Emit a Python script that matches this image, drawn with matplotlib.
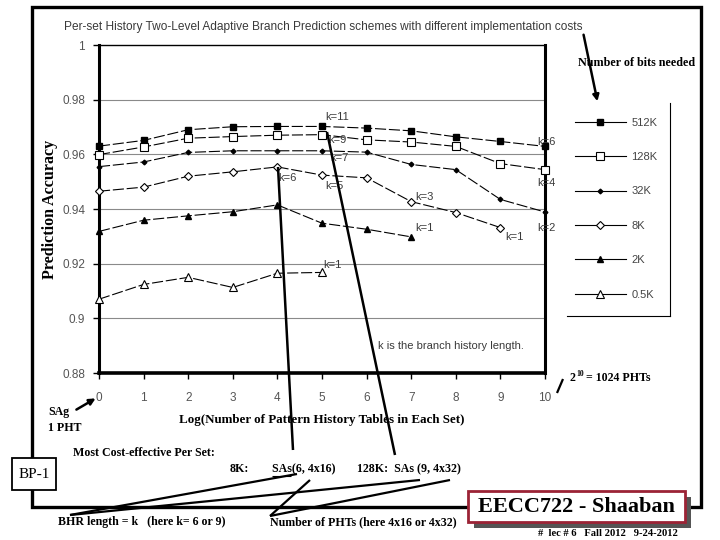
import matplotlib
matplotlib.use("Agg")
import matplotlib.pyplot as plt
from matplotlib.lines import Line2D
from matplotlib.patches import Rectangle, FancyArrowPatch

# ---------------- data ----------------
log_phts = list(range(11))
series_labels = ["512K", "128K", "32K", "8K", "2K", "0.5K"]
acc_512k = [0.9630, 0.9651, 0.9690, 0.9701, 0.9702, 0.9702, 0.9696, 0.9686, 0.9664, 0.9647, 0.9629]
acc_128k = [0.9599, 0.9627, 0.9659, 0.9665, 0.9670, 0.9672, 0.9653, 0.9645, 0.9629, 0.9566, 0.9544]
acc_32k = [0.9555, 0.9572, 0.9607, 0.9613, 0.9613, 0.9613, 0.9608, 0.9563, 0.9544, 0.9435, 0.9389]
acc_8k = [0.9465, 0.9480, 0.9520, 0.9536, 0.9554, 0.9524, 0.9514, 0.9427, 0.9387, 0.9332]
acc_2k = [0.9318, 0.9359, 0.9375, 0.9390, 0.9415, 0.9348, 0.9326, 0.9298]
acc_05k = [0.9070, 0.9124, 0.9150, 0.9113, 0.9165, 0.9168]
y_ticks = [0.88, 0.90, 0.92, 0.94, 0.96, 0.98, 1.0]
y_tick_labels = ["0.88", "0.9", "0.92", "0.94", "0.96", "0.98", "1"]
k_notes = [  # (x, y, text)
    (5.07, 0.9737, "k=11"), (5.13, 0.9652, "k=9"), (5.18, 0.9587, "k=7"),
    (4.01, 0.9514, "k=6"), (5.07, 0.9484, "k=5"), (5.03, 0.9195, "k=1"),
    (7.08, 0.9444, "k=3"), (7.08, 0.9331, "k=1"), (9.10, 0.9298, "k=1"),
    (9.82, 0.9645, "k=6"), (9.82, 0.9495, "k=4"), (9.82, 0.9331, "k=2"),
]

SANS = ["Liberation Sans Narrow", "Liberation Sans", "DejaVu Sans"]
SERIF = ["Liberation Serif", "DejaVu Serif"]
GRAY = "#3a3a3a"

W, H = 720, 540
def P(x, y):
    return (x / W, 1 - y / H)

fig = plt.figure(figsize=(7.2, 5.4), dpi=100)
fig.patch.set_facecolor("white")

ax = fig.add_axes([99 / W, 1 - 373 / H, (545 - 99) / W, (373 - 45) / H])
ax.set_xlim(0, 10)
ax.set_ylim(0.88, 1.0)

styles = [
    dict(marker="s", ms=4.6, mfc="black", mec="black"),
    dict(marker="s", ms=5.6, mfc="white", mec="black", mew=0.8),
    dict(marker="D", ms=2.4, mfc="black", mec="black"),
    dict(marker="D", ms=4.4, mfc="white", mec="black", mew=0.8),
    dict(marker="^", ms=3.8, mfc="black", mec="black"),
    dict(marker="^", ms=5.6, mfc="white", mec="black", mew=0.8),
]
all_series = [acc_512k, acc_128k, acc_32k, acc_8k, acc_2k, acc_05k]
handles = []
for vals, st, lab in zip(all_series, styles, series_labels):
    ax.plot(log_phts[:len(vals)], vals, color="black", lw=0.8,
            linestyle=(0, (10, 2.5)), clip_on=False, zorder=4, **st)
    handles.append(Line2D([0], [0], color="black", lw=0.8, **st))

for s in ["left", "right"]:
    ax.spines[s].set_linewidth(2.2)
ax.spines["bottom"].set_linewidth(2.6)
ax.spines["top"].set_linewidth(1.0)

ax.set_yticks(y_ticks)
ax.set_yticklabels(y_tick_labels)
ax.set_xticks(log_phts)
ax.tick_params(axis="y", direction="out", length=4, width=1, pad=6,
               labelsize=8.5, labelcolor="#555555")
ax.tick_params(axis="x", direction="out", length=4, width=1, pad=10,
               labelsize=8.5, labelcolor="#555555")
for lab in ax.get_xticklabels() + ax.get_yticklabels():
    lab.set_family(SANS)
for yv in y_ticks[1:-1]:
    ax.axhline(yv, color="#8a8a8a", lw=0.8, zorder=1)

for x, y, t in k_notes:
    ax.text(x, y, t, fontsize=8, family=SANS, color=GRAY, va="center", ha="left", zorder=5)
ax.text(6.26, 0.8897, "k is the branch history length.", fontsize=8, family=SANS,
        color=GRAY, va="center", ha="left")

ax.set_ylabel("Prediction Accuracy", family=SERIF, fontweight="bold", fontsize=11.5,
              labelpad=3)
ax.set_xlabel("Log(Number of Pattern History Tables in Each Set)", family=SERIF,
              fontweight="bold", fontsize=9.4, labelpad=7)

# title
fig.text(*P(64, 27), "Per-set History Two-Level Adaptive Branch Prediction schemes with different implementation costs",
         family=SANS, fontsize=8.6, color=GRAY, va="center", ha="left")

# legend
fig.legend(handles, series_labels, loc="upper left", bbox_to_anchor=P(569, 112),
           frameon=False, handlelength=4.6, handletextpad=0.5, labelspacing=2.2,
           prop=dict(family=SANS, size=8), labelcolor="#444444", borderpad=0)
fig.add_artist(Line2D([670 / W, 670 / W], [1 - 103 / H, 1 - 316 / H], color="black", lw=0.8))
fig.add_artist(Line2D([567 / W, 670 / W], [1 - 316 / H, 1 - 316 / H], color="black", lw=0.8))

# slide frame
fig.add_artist(Rectangle(P(32, 507), (701 - 32) / W, (507 - 7) / H, fill=False,
                         lw=2.4, edgecolor="black", transform=fig.transFigure, zorder=1))

def fline(p0, p1, lw=1.8, color="black"):
    fig.add_artist(Line2D([p0[0] / W, p1[0] / W], [1 - p0[1] / H, 1 - p1[1] / H],
                          color=color, lw=lw, solid_capstyle="butt", zorder=6))

def farrow(p0, p1, lw=1.8):
    fig.add_artist(FancyArrowPatch(P(*p0), P(*p1), transform=fig.transFigure,
                                   arrowstyle="-|>", mutation_scale=9, lw=lw,
                                   color="black", zorder=6))

# pointer lines
fline((278, 167), (293, 450))
fline((327, 132), (395, 455))
fline((297, 474), (70, 515), lw=1.6)
fline((420, 480), (70, 515), lw=1.6)
fline((310, 480), (270, 516), lw=1.6)
fline((450, 480), (270, 516), lw=1.6)
fline((557, 393), (563, 379), lw=1.6)
farrow((583, 32), (598, 104))
farrow((74, 411), (98, 397))

def ftext(x, y, s, size=8, ha="left", weight="bold", **kw):
    fig.text(x / W, 1 - y / H, s, family=SERIF, fontweight=weight, fontsize=size,
             ha=ha, va="center", **kw)

ftext(578, 63, "Number of bits needed", size=8.7)
ftext(570, 378, "2", size=8.6)
ftext(576, 374, "10", size=5.5)
ftext(586, 378, "= 1024 PHTs", size=8.6)
ftext(48, 412, "SAg", size=8.6)
ftext(48, 428, "1 PHT", size=8.6)
ftext(73, 453, "Most Cost-effective Per Set:", size=8.6)
ftext(230, 469, "8K:", size=8.6)
ftext(272, 469, "SAs(6, 4x16)", size=8.6)
fline((272, 476), (291, 476), lw=0.8)
ftext(357, 469, "128K:  SAs (9, 4x32)", size=8.6)
ftext(58, 522, "BHR length = k   (here k= 6 or 9)", size=8.6)
ftext(270, 522, "Number of PHTs (here 4x16 or 4x32)", size=8.6)

# BP-1 box
fig.add_artist(Rectangle(P(12, 490), 44 / W, 32 / H, facecolor="white", edgecolor="black",
                         lw=1.3, transform=fig.transFigure, zorder=7))
ftext(34, 474, "BP-1", size=11, ha="center", weight="normal", zorder=8)

# EECC722 box
fig.add_artist(Rectangle(P(474, 528), 217 / W, 31 / H, facecolor="#555555", edgecolor="none",
                         transform=fig.transFigure, zorder=7))
fig.add_artist(Rectangle(P(468, 522), 217 / W, 31 / H, facecolor="white", edgecolor="#9b2335",
                         lw=2, transform=fig.transFigure, zorder=8))
ftext(576, 507, "EECC722 - Shaaban", size=16, ha="center", zorder=9)
ftext(608, 533, "#  lec # 6   Fall 2012   9-24-2012", size=7.6, ha="center", zorder=9)

fig.savefig("out.png", dpi=100)
